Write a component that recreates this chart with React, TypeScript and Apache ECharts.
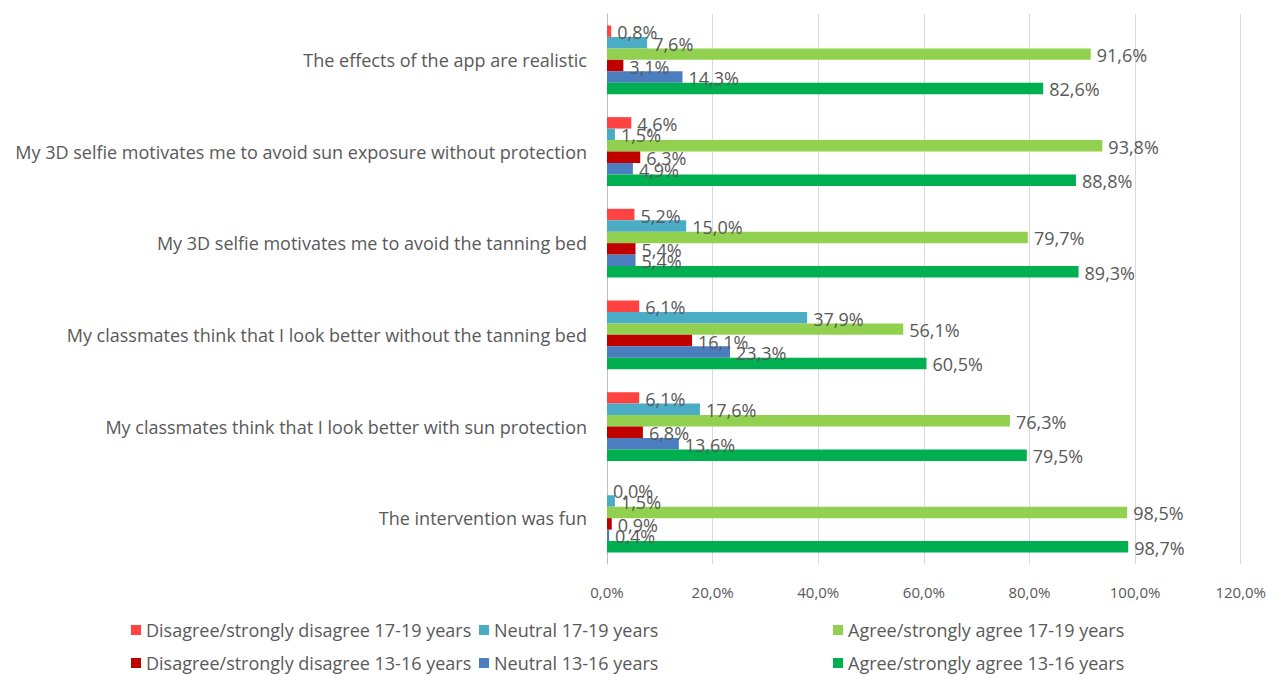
import React, { useEffect, useRef } from "react";
import * as echarts from "echarts";

const categories = [
  "The effects of the app are realistic",
  "My 3D selfie motivates me to avoid sun exposure without protection",
  "My 3D selfie motivates me to avoid the tanning bed",
  "My classmates think that I look better without the tanning bed",
  "My classmates think that I look better with sun protection",
  "The intervention was fun",
];

const seriesNames = [
  "Disagree/strongly disagree 17-19 years",
  "Neutral 17-19 years",
  "Agree/strongly agree 17-19 years",
  "Disagree/strongly disagree 13-16 years",
  "Neutral 13-16 years",
  "Agree/strongly agree 13-16 years",
];

const disagree1719 = [0.8, 4.6, 5.2, 6.1, 6.1, 0.0];
const neutral1719 = [7.6, 1.5, 15.0, 37.9, 17.6, 1.5];
const agree1719 = [91.6, 93.8, 79.7, 56.1, 76.3, 98.5];
const disagree1316 = [3.1, 6.3, 5.4, 16.1, 6.8, 0.9];
const neutral1316 = [14.3, 4.9, 5.4, 23.3, 13.6, 0.4];
const agree1316 = [82.6, 88.8, 89.3, 60.5, 79.5, 98.7];

const seriesValues = [disagree1719, neutral1719, agree1719, disagree1316, neutral1316, agree1316];
const colors = ["#FF4343", "#4BACC6", "#92D050", "#C00000", "#4A7EBF", "#00B050"];

const fmt = (v: number) => v.toFixed(1).replace(".", ",") + "%";

const legendPos = [
  { left: 123, top: 613 },
  { left: 471, top: 613 },
  { left: 825, top: 613 },
  { left: 123, top: 646 },
  { left: 471, top: 646 },
  { left: 825, top: 646 },
];

const FONT = "'Open Sans', 'Noto Sans', sans-serif";
const TEXT = "#595959";

export default function App() {
  const ref = useRef<HTMLDivElement>(null);
  useEffect(() => {
    if (!ref.current) return;
    const chart = echarts.init(ref.current, undefined, { renderer: "svg" });
    chart.setOption({
      animation: false,
      backgroundColor: "#ffffff",
      textStyle: { fontFamily: FONT },
      grid: { left: 599, right: 23, top: 6, bottom: 111, containLabel: false },
      legend: seriesNames.map((n, i) => ({
        data: [n],
        left: legendPos[i].left,
        top: legendPos[i].top,
        itemWidth: 10,
        itemHeight: 10,
        icon: "rect",
        itemGap: 6,
        padding: 0,
        textStyle: { color: TEXT, fontSize: 18, fontFamily: FONT },
        selectedMode: false,
      })),
      xAxis: {
        type: "value",
        min: 0,
        max: 120,
        interval: 20,
        axisLine: { show: false },
        axisTick: { show: false },
        splitLine: { show: true, lineStyle: { color: "#D9D9D9", width: 1 } },
        axisLabel: {
          color: TEXT,
          fontSize: 15,
          fontFamily: FONT,
          margin: 20,
          formatter: (v: number) => fmt(v),
        },
      },
      yAxis: {
        type: "category",
        inverse: true,
        data: categories,
        axisLine: { show: true, lineStyle: { color: "#BFBFBF" } },
        axisTick: { show: false },
        axisLabel: { color: TEXT, fontSize: 18, fontFamily: FONT, margin: 20 },
      },
      series: seriesNames.map((n, i) => ({
        name: n,
        type: "bar",
        data: seriesValues[i],
        barGap: "0%",
        barCategoryGap: "25%",
        itemStyle: { color: colors[i] },
        label: {
          show: true,
          position: "right",
          distance: 6,
          offset: [0, 1],
          color: TEXT,
          fontSize: 18,
          fontFamily: FONT,
          formatter: (p: any) => fmt(p.value),
        },
      })),
    });
    return () => chart.dispose();
  }, []);
  return <div ref={ref} style={{ width: 1261, height: 667 }} />;
}
